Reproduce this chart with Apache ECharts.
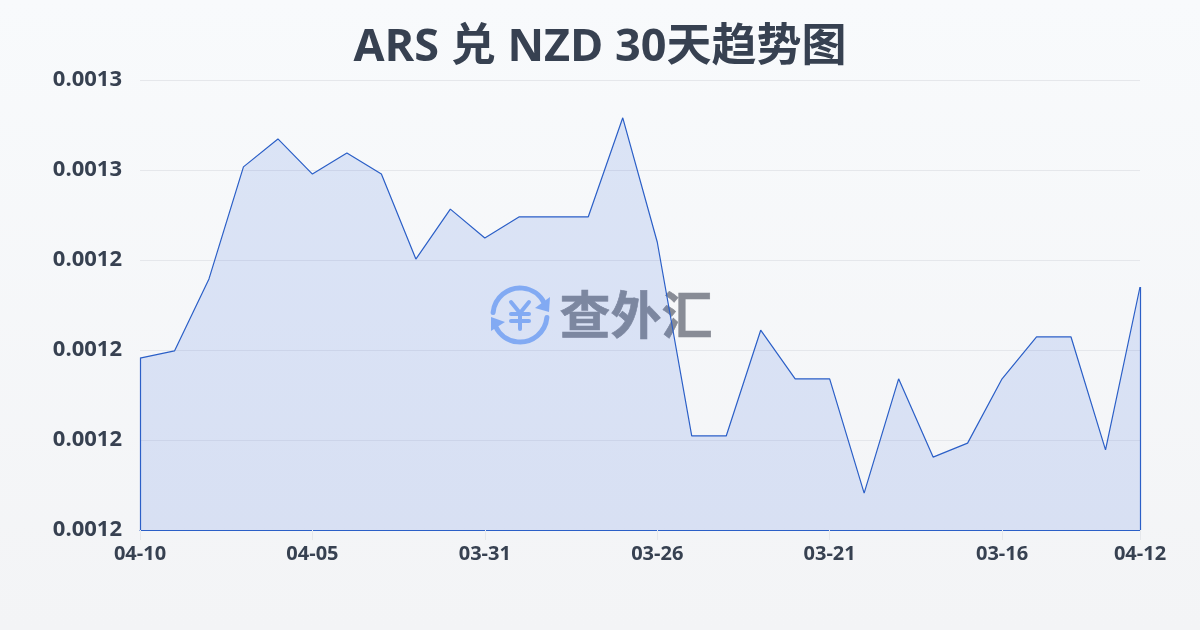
<!DOCTYPE html>
<html>
<head>
<meta charset="utf-8">
<style>
html, body { margin: 0; padding: 0; }
#main { width: 1200px; height: 630px; }
</style>
<script src="https://cdn.jsdelivr.net/npm/echarts@6/dist/echarts.min.js"></script>
</head>
<body>
<div id="main"></div>
<script>
var titleText = 'ARS 兑 NZD 30天趋势图';
var dates = ['04-10','04-09','04-08','04-07','04-06','04-05','04-04','04-03','04-02','04-01',
	'03-31','03-30','03-29','03-28','03-27','03-26','03-25','03-24','03-23','03-22',
	'03-21','03-20','03-19','03-18','03-17','03-16','03-15','03-14','03-13','04-12'];
var rates = [0.0012182,0.0012198,0.0012358,0.0012607,0.0012669,0.0012591,0.0012638,0.0012591,0.0012402,0.0012513,
	0.0012449,0.0012496,0.0012496,0.0012496,0.0012716,0.0012440,0.0012009,0.0012009,0.0012244,0.0012136,
	0.0012136,0.0011882,0.0012136,0.0011962,0.0011993,0.0012136,0.0012229,0.0012229,0.0011978,0.0012340];
var yMin = 0.00118;
var yMax = 0.00128;
var yStep = 0.00002;

var lineColor = '#2b5fc7';
var textColor = '#374151';
var logoBlue = '#8fb6f7';

var myChart = echarts.init(document.getElementById('main'));

//闭合面积的左右两条边
var last = dates.length - 1;
var edges = [
	[{xAxis: 0, yAxis: rates[0]}, {xAxis: 0, yAxis: yMin}],
	[{xAxis: last, yAxis: rates[last]}, {xAxis: last, yAxis: yMin}]
];

var option = {
	backgroundColor: new echarts.graphic.LinearGradient(0, 0, 0, 1, [
		{offset: 0, color: '#f8fafc'},
		{offset: 1, color: '#f3f4f6'}
	]),
	animation: false,
	title: {
		text: titleText,
		left: 'center',
		top: 21,
		textStyle: {
			fontFamily: '"Open Sans", "Noto Sans CJK SC"',
			fontSize: 45,
			fontWeight: 'bold',
			color: '#374151'
		}
	},
	grid: {
		left: 140,
		right: 60,
		top: 80,
		bottom: 100
	},
	xAxis: {
		type: 'category',
		boundaryGap: false,
		data: dates,
		axisLine: {
			lineStyle: {color: lineColor, width: 1.2}
		},
		axisTick: {
			interval: function(i) { return i % 5 === 0 || i === last; },
			length: 10,
			lineStyle: {color: '#e5e7eb'}
		},
		axisLabel: {
			interval: function(i) { return i % 5 === 0 || i === last; },
			showMinLabel: true,
			showMaxLabel: true,
			margin: 14,
			fontFamily: '"Open Sans"',
			fontSize: 20,
			fontWeight: 'bold',
			color: textColor
		},
		splitLine: {show: false}
	},
	yAxis: {
		type: 'value',
		min: yMin,
		max: yMax,
		interval: yStep,
		axisLine: {show: false},
		axisTick: {show: false},
		axisLabel: {
			margin: 18,
			fontFamily: '"Open Sans"',
			fontSize: 22,
			fontWeight: 'bold',
			color: textColor,
			formatter: function(v) { return v.toFixed(4); }
		},
		splitLine: {
			lineStyle: {color: '#e5e7eb', width: 1}
		}
	},
	graphic: [{
		type: 'group',
		z: 1,
		children: [
			{type: 'arc', z: 1, shape: {cx: 520, cy: 315, r: 27, startAngle: Math.PI * 1.03, endAngle: Math.PI * 1.86},
				style: {stroke: logoBlue, lineWidth: 5, fill: null, lineCap: 'round'}},
			{type: 'arc', z: 1, shape: {cx: 520, cy: 315, r: 27, startAngle: Math.PI * 0.03, endAngle: Math.PI * 0.86},
				style: {stroke: logoBlue, lineWidth: 5, fill: null, lineCap: 'round'}},
			{type: 'polygon', z: 1, shape: {points: [[550, 297], [549, 312], [535, 308]]}, style: {fill: logoBlue}},
			{type: 'polygon', z: 1, shape: {points: [[491, 317], [505, 322], [491, 331]]}, style: {fill: logoBlue}},
			{type: 'polyline', z: 1, shape: {points: [[511, 302], [520, 313], [529, 302]]},
				style: {stroke: logoBlue, lineWidth: 4, fill: null, lineCap: 'round'}},
			{type: 'line', z: 1, shape: {x1: 520, y1: 313, x2: 520, y2: 329},
				style: {stroke: logoBlue, lineWidth: 4, lineCap: 'round'}},
			{type: 'line', z: 1, shape: {x1: 511, y1: 314, x2: 529, y2: 314},
				style: {stroke: logoBlue, lineWidth: 4, lineCap: 'round'}},
			{type: 'line', z: 1, shape: {x1: 511, y1: 321, x2: 529, y2: 321},
				style: {stroke: logoBlue, lineWidth: 4, lineCap: 'round'}},
			{type: 'text', z: 1, style: {
				x: 636, y: 315,
				text: '查外汇',
				align: 'center',
				verticalAlign: 'middle',
				font: 'bold 51px "Noto Sans CJK SC"',
				fill: '#888c96',
				stroke: '#888c96',
				lineWidth: 0.6
			}}
		]
	}],
	series: [{
		type: 'line',
		data: rates,
		z: 3,
		symbol: 'none',
		showSymbol: false,
		smooth: false,
		lineStyle: {color: lineColor, width: 1.2},
		itemStyle: {color: lineColor},
		areaStyle: {color: 'rgba(59,110,220,0.15)', opacity: 1, origin: 'start'},
		markLine: {
			silent: true,
			symbol: 'none',
			label: {show: false},
			lineStyle: {color: lineColor, width: 1.2, type: 'solid'},
			data: edges
		}
	}]
};

myChart.setOption(option);
</script>
</body>
</html>
